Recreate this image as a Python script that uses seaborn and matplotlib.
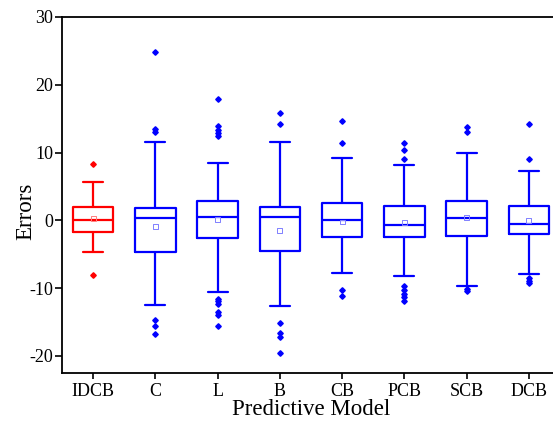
import numpy as np
import pandas as pd
import matplotlib
matplotlib.use("Agg")
import matplotlib.pyplot as plt
import seaborn as sns

# ---- data ----
models = ["IDCB", "C", "L", "B", "CB", "PCB", "SCB", "DCB"]
q1 = [-1.75, -4.72, -2.69, -4.52, -2.49, -2.44, -2.25, -2.00]
medians = [-0.03, 0.37, 0.47, 0.42, -0.03, -0.77, 0.32, -0.62]
q3 = [2.00, 1.85, 2.79, 2.00, 2.49, 2.05, 2.79, 2.05]
whisker_low = [-4.67, -12.52, -10.59, -12.67, -7.83, -8.17, -9.70, -7.93]
whisker_high = [5.60, 11.53, 8.47, 11.58, 9.21, 8.22, 9.90, 7.33]
outliers_low = [
    [-8.03],
    [-14.70, -15.63, -16.86],
    [-11.63, -11.93, -12.37, -13.60, -14.00, -15.63],
    [-15.19, -16.57, -17.30, -19.63],
    [-10.25, -11.19],
    [-9.70, -10.30, -10.84, -11.38, -11.93],
    [-10.20, -10.50],
    [-8.52, -8.96, -9.31],
]
outliers_high = [
    [8.27],
    [13.10, 13.40, 24.86],
    [12.50, 12.90, 13.26, 13.90, 17.85],
    [14.15, 15.78],
    [11.43, 14.59],
    [9.11, 10.44, 11.33],
    [12.96, 13.70],
    [9.00, 14.15],
]
means = [0.20, -0.91, 0.12, -1.56, -0.27, -0.37, 0.42, -0.03]
box_colors = ["#FF0000"] + ["#0000FF"] * 7
mean_colors = ["#FF8080"] + ["#8080FF"] * 7

# ---- build a long table whose box statistics equal the values above ----
rows = []
for i, m in enumerate(models):
    lo, hi = outliers_low[i], outliers_high[i]
    k = max(len(lo), len(hi)) + 1
    n = 4 * k + 1
    vals = [None] * n
    for j, v in enumerate(sorted(lo)):
        vals[j] = v
    vals[len(lo)] = whisker_low[i]
    for j in range(len(lo) + 1, k + 1):
        vals[j] = q1[i]
    for j in range(k + 1, 2 * k + 1):
        vals[j] = medians[i]
    for j in range(2 * k + 1, n - len(hi) - 1):
        vals[j] = q3[i]
    vals[n - len(hi) - 1] = whisker_high[i]
    for j, v in enumerate(sorted(hi)):
        vals[n - len(hi) + j] = v
    for v in vals:
        rows.append({"Model": m, "Errors": v})
df = pd.DataFrame(rows)

# ---- plotting ----
sns.set_style("ticks")
plt.rcParams["font.family"] = ["Liberation Serif", "DejaVu Serif"]
plt.rcParams["axes.unicode_minus"] = False
plt.rcParams["text.color"] = "black"
plt.rcParams["axes.labelcolor"] = "black"
plt.rcParams["xtick.color"] = "black"
plt.rcParams["ytick.color"] = "black"

fig = plt.figure(figsize=(5.53, 4.23), dpi=100)
ax = fig.add_axes([62 / 553, 1 - 372.7 / 423, (560 - 62) / 553, (372.7 - 17) / 423])

palette = dict(zip(models, box_colors))
sns.boxplot(
    data=df, x="Model", y="Errors", hue="Model", palette=palette,
    order=models, hue_order=models, fill=False, width=0.65, whis=1.5,
    linewidth=1.6, legend=False, ax=ax,
    flierprops=dict(marker="D", markersize=2.8),
)
for line in ax.lines:
    if line.get_marker() == "D":
        c = line.get_markeredgecolor()
        line.set_markerfacecolor(c)
        line.set_markeredgecolor(c)

ax.scatter(range(len(models)), means, marker="s", s=12, facecolors="none",
           edgecolors=mean_colors, linewidths=0.7, zorder=5)

ax.set_xlim(-0.5, 7.5)
ax.set_ylim(-22.5, 30)
ax.set_yticks([-20, -10, 0, 10, 20, 30])
ax.set_xticks(range(len(models)))
ax.set_xticklabels(models)

for s in ax.spines.values():
    s.set_linewidth(1.3)
    s.set_color("black")
ax.tick_params(axis="both", colors="black", labelcolor="black")
ax.tick_params(axis="y", direction="out", length=5, width=1.2, labelsize=13, pad=1.5)
ax.tick_params(axis="x", direction="out", length=4.5, width=1.2, labelsize=13, pad=3)
ax.set_xlabel("Predictive Model", fontsize=16.5, labelpad=-1, color="black")
ax.set_ylabel("Errors", fontsize=16.5, color="black")
ax.yaxis.set_label_coords(-0.052, 0.455)

fig.savefig("out.png", dpi=100)
